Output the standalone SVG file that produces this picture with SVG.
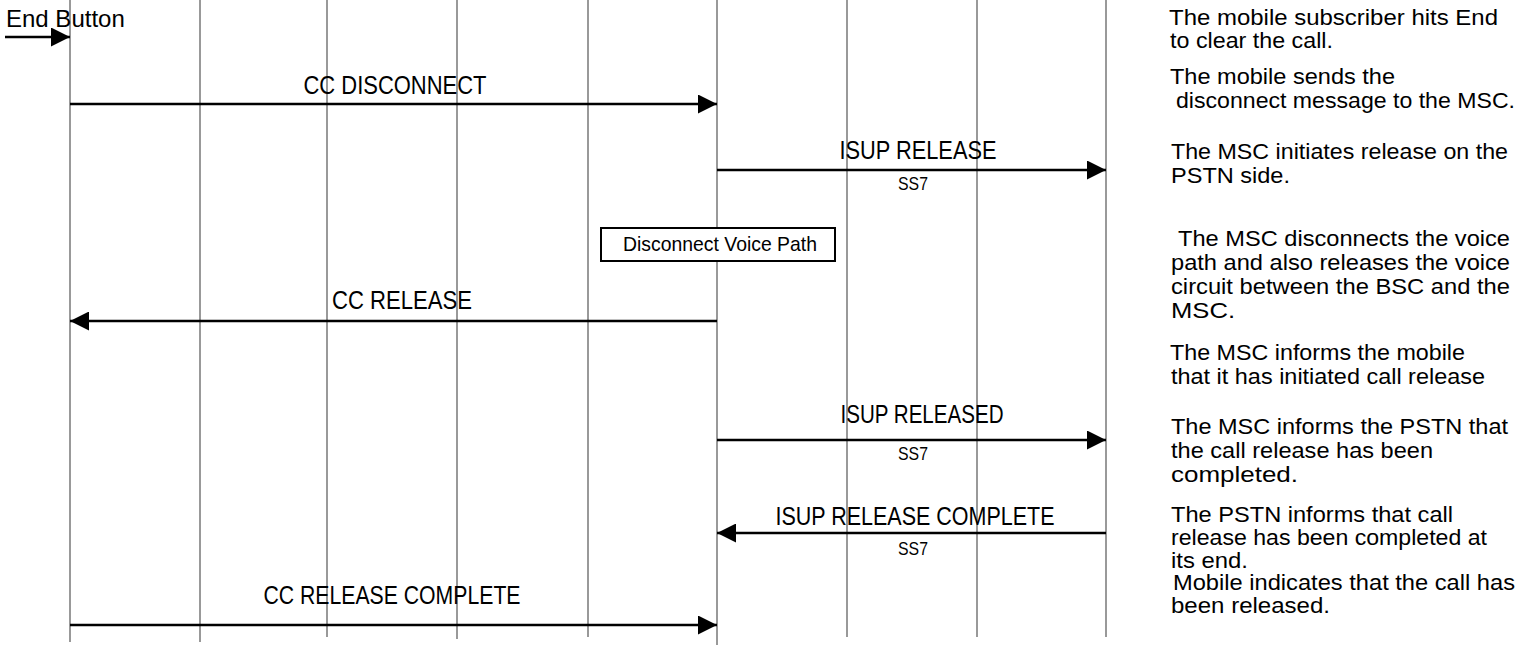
<svg xmlns="http://www.w3.org/2000/svg" width="1519" height="645" viewBox="0 0 1519 645">
<defs>
<marker id="ah" viewBox="0 0 10 10" refX="10" refY="5" markerUnits="userSpaceOnUse" markerWidth="21" markerHeight="19" orient="auto-start-reverse">
<path d="M0,0 L10,5 L0,10 z" fill="#000"/>
</marker>
<style>
.life{stroke:#555;stroke-width:1.2;fill:none}
.msg{stroke:#000;stroke-width:2.6;fill:none;marker-end:url(#ah)}
.lbl{font-family:"Liberation Sans",Arial,sans-serif;font-size:25px;fill:#000;text-anchor:middle}
.ss7{font-family:"Liberation Sans",Arial,sans-serif;font-size:19px;fill:#000;text-anchor:middle}
.note{font-family:"Liberation Sans",Arial,sans-serif;font-size:21.5px;fill:#000}
.box{fill:#fff;stroke:#000;stroke-width:2}
.boxt{font-family:"Liberation Sans",Arial,sans-serif;font-size:21px;fill:#000;text-anchor:middle}
</style>
</defs>
<g id="lifelines">
<line class="life" x1="70" y1="0" x2="70" y2="642"/>
<line class="life" x1="200" y1="0" x2="200" y2="642"/>
<line class="life" x1="327" y1="0" x2="327" y2="637"/>
<line class="life" x1="457" y1="0" x2="457" y2="639"/>
<line class="life" x1="588" y1="0" x2="588" y2="637"/>
<line class="life" x1="717" y1="0" x2="717" y2="645"/>
<line class="life" x1="847" y1="0" x2="847" y2="637"/>
<line class="life" x1="977" y1="0" x2="977" y2="637"/>
<line class="life" x1="1106" y1="0" x2="1106" y2="637"/>
</g>
<g id="end-button">
<text x="6" y="27" font-family="Liberation Sans, Arial, sans-serif" font-size="24">End Button</text>
</g>
<g id="connectors">
<line class="msg" x1="5" y1="37" x2="70" y2="37"/>
<line class="msg" x1="70" y1="104" x2="717" y2="104"/>
<line class="msg" x1="717" y1="170" x2="1106" y2="170"/>
<line class="msg" x1="717" y1="321" x2="70" y2="321"/>
<line class="msg" x1="717" y1="440" x2="1106" y2="440"/>
<line class="msg" x1="1106" y1="533" x2="717" y2="533"/>
<line class="msg" x1="70" y1="625" x2="717" y2="625"/>
</g>
<g id="labels">
<text class="lbl" x="395" y="94" textLength="183" lengthAdjust="spacingAndGlyphs">CC DISCONNECT</text>
<text class="lbl" x="918" y="159" textLength="157" lengthAdjust="spacingAndGlyphs">ISUP  RELEASE</text>
<text class="ss7" x="913" y="190" textLength="30" lengthAdjust="spacingAndGlyphs">SS7</text>
<text class="lbl" x="402" y="309" textLength="140" lengthAdjust="spacingAndGlyphs">CC RELEASE</text>
<text class="lbl" x="922" y="423" textLength="163" lengthAdjust="spacingAndGlyphs">ISUP  RELEASED</text>
<text class="ss7" x="913" y="460" textLength="30" lengthAdjust="spacingAndGlyphs">SS7</text>
<text class="lbl" x="915" y="525" textLength="279" lengthAdjust="spacingAndGlyphs">ISUP  RELEASE COMPLETE</text>
<text class="ss7" x="913" y="555" textLength="30" lengthAdjust="spacingAndGlyphs">SS7</text>
<text class="lbl" x="392" y="604" textLength="257" lengthAdjust="spacingAndGlyphs">CC RELEASE COMPLETE</text>
</g>
<g id="disconnect-voice-path">
<rect class="box" x="601" y="228" width="234" height="33"/>
<text class="boxt" x="720" y="251" textLength="194" lengthAdjust="spacingAndGlyphs">Disconnect Voice Path</text>
</g>
<g id="notes">
<text class="note" x="1169" y="25" textLength="329" lengthAdjust="spacingAndGlyphs">The mobile  subscriber  hits  End</text>
<text class="note" x="1170" y="48" textLength="163" lengthAdjust="spacingAndGlyphs">to clear the call.</text>
<text class="note" x="1170" y="84" textLength="225" lengthAdjust="spacingAndGlyphs">The mobile  sends  the</text>
<text class="note" x="1176" y="108" textLength="339" lengthAdjust="spacingAndGlyphs">disconnect  message to the MSC.</text>
<text class="note" x="1171" y="159" textLength="337" lengthAdjust="spacingAndGlyphs">The MSC initiates  release on the</text>
<text class="note" x="1171" y="183" textLength="119" lengthAdjust="spacingAndGlyphs">PSTN side.</text>
<text class="note" x="1178" y="246" textLength="332" lengthAdjust="spacingAndGlyphs">The MSC disconnects  the voice</text>
<text class="note" x="1171" y="270" textLength="339" lengthAdjust="spacingAndGlyphs">path  and also releases the voice</text>
<text class="note" x="1171" y="294" textLength="339" lengthAdjust="spacingAndGlyphs">circuit  between  the BSC and the</text>
<text class="note" x="1171" y="318" textLength="64" lengthAdjust="spacingAndGlyphs">MSC.</text>
<text class="note" x="1170" y="360" textLength="295" lengthAdjust="spacingAndGlyphs">The MSC informs  the mobile</text>
<text class="note" x="1171" y="384" textLength="314" lengthAdjust="spacingAndGlyphs">that it has initiated  call release</text>
<text class="note" x="1171" y="434" textLength="337" lengthAdjust="spacingAndGlyphs">The MSC informs  the PSTN that</text>
<text class="note" x="1171" y="458" textLength="262" lengthAdjust="spacingAndGlyphs">the call  release has been</text>
<text class="note" x="1171" y="482" textLength="127" lengthAdjust="spacingAndGlyphs">completed.</text>
<text class="note" x="1171" y="522" textLength="282" lengthAdjust="spacingAndGlyphs">The PSTN informs  that  call</text>
<text class="note" x="1171" y="545" textLength="316" lengthAdjust="spacingAndGlyphs">release has  been  completed  at</text>
<text class="note" x="1171" y="568" textLength="77" lengthAdjust="spacingAndGlyphs">its end.</text>
<text class="note" x="1173" y="590" textLength="342" lengthAdjust="spacingAndGlyphs">Mobile  indicates  that  the  call  has</text>
<text class="note" x="1171" y="613" textLength="159" lengthAdjust="spacingAndGlyphs">been released.</text>
</g>
</svg>
